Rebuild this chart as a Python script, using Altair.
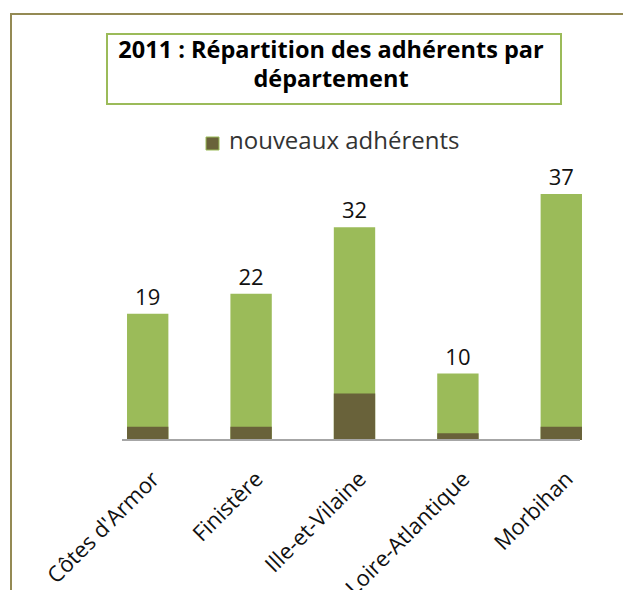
import altair as alt
import pandas as pd

departements = ["Côtes d'Armor", "Finistère", "Ille-et-Vilaine", "Loire-Atlantique", "Morbihan"]
total_adherents = [19, 22, 32, 10, 37]
nouveaux_adherents = [2, 2, 7, 1, 2]
title_line1 = "2011 :  Répartition des adhérents par"
title_line2 = "département"
legend_label = "nouveaux adhérents"

GREEN = "#9BBB59"
DARK = "#69623A"
OLIVE = "#948A54"
FONT = "Open Sans"

df = pd.DataFrame({"dep": departements, "total": total_adherents, "nouveaux": nouveaux_adherents})
one = pd.DataFrame({"k": [0]})

W, H = 517, 266
x_enc = alt.X("dep:N", sort=None,
              scale=alt.Scale(paddingInner=0.6, paddingOuter=0.3),
              axis=alt.Axis(title=None, labelAngle=-45, domain=False, ticks=False,
                            labelFont=FONT, labelFontSize=22, labelColor="#111",
                            labelPadding=28, labelOffset=1))
y_total = alt.Y("total:Q", scale=alt.Scale(domain=[0, 40]), axis=None)
y_new = alt.Y("nouveaux:Q", scale=alt.Scale(domain=[0, 40]), axis=None)


def hline(x1, x2, y, color, w):
    return alt.Chart(one).mark_rule(color=color, strokeWidth=w).encode(
        x=alt.value(x1), x2=alt.value(x2), y=alt.value(y))


def vline(x, y1, y2, color, w):
    return alt.Chart(one).mark_rule(color=color, strokeWidth=w).encode(
        x=alt.value(x), y=alt.value(y1), y2=alt.value(y2))


# decorations in plot coordinates (plot origin at page (96,174))
outer_top = hline(-86, 560, -160, OLIVE, 2)
outer_left = vline(-85, -161, 500, OLIVE, 2)
tb_top = hline(11, 465, -140, GREEN, 2)
tb_bot = hline(11, 465, -70, GREEN, 2)
tb_left = vline(11, -141, -69, GREEN, 2)
tb_right = vline(465, -141, -69, GREEN, 2)

title_t1 = alt.Chart(one).mark_text(font=FONT, fontWeight="bold", fontSize=23.5, color="#000",
                                    align="center", baseline="alphabetic", text=title_line1).encode(
    x=alt.value(235), y=alt.value(-116))
title_t2 = alt.Chart(one).mark_text(font=FONT, fontWeight="bold", fontSize=23.5, color="#000",
                                    align="center", baseline="alphabetic", text=title_line2).encode(
    x=alt.value(235), y=alt.value(-87))
legend_sq = alt.Chart(one).mark_point(shape="square", filled=True, size=169, color=DARK,
                                      opacity=1, stroke=GREEN, strokeWidth=1).encode(
    x=alt.value(116.5), y=alt.value(-30.5))
legend_txt = alt.Chart(one).mark_text(font=FONT, fontSize=24, color="#333", align="left",
                                      baseline="alphabetic", text=legend_label).encode(
    x=alt.value(133), y=alt.value(-25))
baseline = hline(26, 484, H, "#A6A6A6", 2)

base = alt.Chart(df)
bars_total = base.mark_bar(color=GREEN).encode(x=x_enc, y=y_total)
bars_new = base.mark_bar(color=DARK).encode(x=x_enc, y=y_new)
labels = base.mark_text(font=FONT, fontSize=22, color="#111", dy=-9, baseline="alphabetic").encode(
    x=x_enc, y=y_total, text="total:Q")

chart = alt.layer(bars_total, bars_new, labels, baseline,
                  outer_top, outer_left, tb_top, tb_bot, tb_left, tb_right,
                  title_t1, title_t2, legend_sq, legend_txt).properties(
    width=W, height=H,
    autosize=alt.AutoSizeParams(type="none"),
    padding={"left": 88, "top": 166, "right": 10, "bottom": 150},
).configure_view(stroke=None)

chart.save("out.html", embed_options={"renderer": "svg", "actions": False})
